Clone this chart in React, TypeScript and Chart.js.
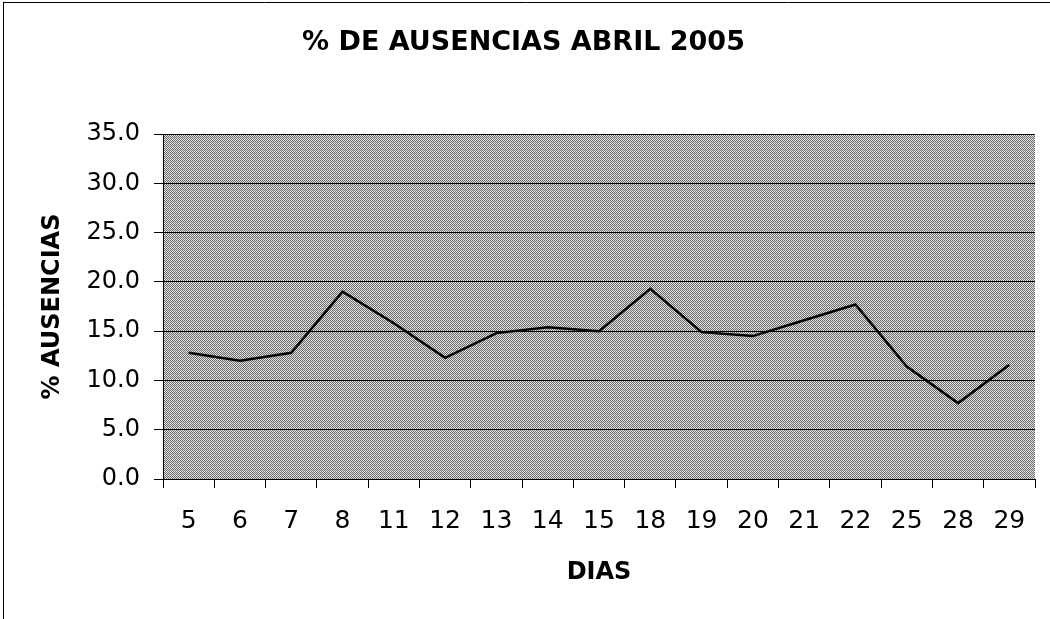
import React, { useEffect, useRef } from 'react';
import { Chart, registerables } from 'chart.js';

Chart.register(...registerables);

const TITLE = '% DE AUSENCIAS ABRIL 2005';
const X_TITLE = 'DIAS';
const Y_TITLE = '% AUSENCIAS';

const dias = ['5', '6', '7', '8', '11', '12', '13', '14', '15', '18', '19', '20', '21', '22', '25', '28', '29'];
const ausencias = [12.8, 12.0, 12.8, 19.0, 15.8, 12.3, 14.8, 15.4, 15.0, 19.3, 14.9, 14.5, 16.1, 17.7, 11.4, 7.7, 11.6];

const Y_MIN = 0;
const Y_MAX = 35;
const Y_STEP = 5;

function makePattern(ctx: CanvasRenderingContext2D): CanvasPattern | string {
  const c = document.createElement('canvas');
  c.width = 8;
  c.height = 8;
  const g = c.getContext('2d');
  if (!g) return '#a4a4a4';
  for (let y = 0; y < 8; y++) {
    for (let x = 0; x < 8; x++) {
      const dark = (x + y) % 2 === 0;
      let col = dark ? '#6c6c6c' : '#dcdcdc';
      if (y % 4 === 3 && !dark) col = '#f0f0f0';
      g.fillStyle = col;
      g.fillRect(x, y, 1, 1);
    }
  }
  return ctx.createPattern(c, 'repeat') || '#a4a4a4';
}

const bgPlugin = {
  id: 'bgPattern',
  beforeDraw(chart: any) {
    const { ctx, chartArea: a } = chart;
    if (!a) return;
    ctx.save();
    ctx.fillStyle = makePattern(ctx);
    ctx.fillRect(a.left, a.top, a.right - a.left, a.bottom - a.top);
    ctx.restore();
  },
};

const framePlugin = {
  id: 'frame',
  afterDraw(chart: any) {
    const { ctx, width, height } = chart;
    ctx.save();
    ctx.strokeStyle = '#000';
    ctx.lineWidth = 1;
    ctx.beginPath();
    ctx.moveTo(3, 2.5);
    ctx.lineTo(width, 2.5);
    ctx.moveTo(3.5, 2);
    ctx.lineTo(3.5, height);
    ctx.stroke();
    ctx.restore();
  },
};

export default function App() {
  const ref = useRef<HTMLCanvasElement | null>(null);

  useEffect(() => {
    if (!ref.current) return;
    Chart.defaults.font.family = "'DejaVu Sans', sans-serif";
    Chart.defaults.color = '#000';
    const chart = new Chart(ref.current, {
      type: 'line',
      data: {
        labels: dias,
        datasets: [
          {
            label: Y_TITLE,
            data: ausencias,
            borderColor: '#000',
            backgroundColor: '#000',
            borderWidth: 2.5,
            pointRadius: 0,
            tension: 0,
            fill: false,
          },
        ],
      },
      options: {
        responsive: false,
        animation: false,
        layout: { padding: { left: 12, right: 15, top: 0, bottom: 0 } },
        plugins: {
          legend: { display: false },
          tooltip: { enabled: false },
          title: {
            display: true,
            text: TITLE,
            color: '#000',
            font: { size: 27, weight: 'bold' },
            padding: { top: 26.3, bottom: 75.3 },
          },
        },
        scales: {
          x: {
            type: 'category',
            offset: true,
            grid: {
              display: true,
              offset: true,
              drawOnChartArea: false,
              drawTicks: true,
              tickLength: 9,
              tickColor: '#000',
              tickWidth: 1,
            },
            border: { display: true, color: '#000', width: 1 },
            ticks: {
              color: '#000',
              font: { size: 25 },
              padding: 18,
              maxRotation: 0,
              autoSkip: false,
            },
            title: {
              display: true,
              text: X_TITLE,
              color: '#000',
              font: { size: 24, weight: 'bold' },
              padding: { top: 0, bottom: 31.6 },
            },
            afterFit: (s: any) => {
              s.height = 140;
            },
          },
          y: {
            min: Y_MIN,
            max: Y_MAX,
            grid: {
              color: '#000',
              lineWidth: 1,
              drawTicks: true,
              tickLength: 9,
              tickColor: '#000',
            },
            border: { display: true, color: '#000', width: 1 },
            ticks: {
              stepSize: Y_STEP,
              color: '#000',
              font: { size: 24 },
              padding: 14,
              callback: (v: any) => Number(v).toFixed(1),
            },
            title: {
              display: true,
              text: Y_TITLE,
              color: '#000',
              font: { size: 24, weight: 'bold' },
              padding: { top: 26.6, bottom: 0 },
            },
            afterFit: (s: any) => {
              s.width = 151;
            },
          },
        },
      },
      plugins: [bgPlugin, framePlugin],
    } as any);
    return () => chart.destroy();
  }, []);

  return (
    <div style={{ position: 'absolute', left: 0, top: 0, width: 1050, height: 619, background: '#fff' }}>
      <canvas ref={ref} width={1050} height={619} style={{ display: 'block' }} />
    </div>
  );
}
